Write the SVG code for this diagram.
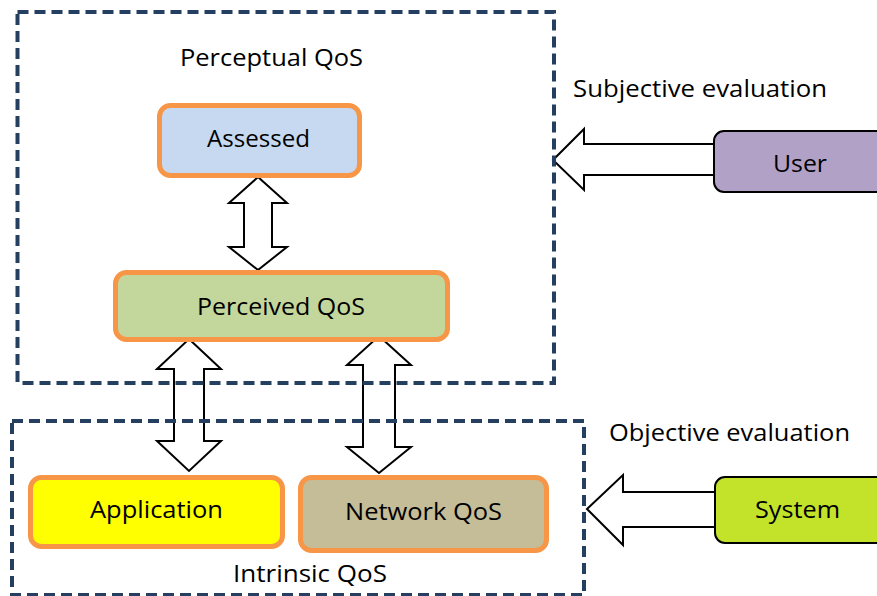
<svg xmlns="http://www.w3.org/2000/svg" width="877" height="596" viewBox="0 0 877 596">
  <style>
    text { font-family: "Open Sans", "Liberation Sans", Arial, sans-serif; font-size: 24px; fill: #000; }
    .group { fill: none; stroke: #243f60; stroke-width: 4; stroke-dasharray: 11 6; }
    .qos { stroke: #f79646; stroke-width: 5; }
    .actor { stroke: #000; stroke-width: 2; }
    .block { fill: #fff; stroke: #000; stroke-width: 2; stroke-linejoin: miter; }
  </style>
  <rect width="877" height="596" fill="#fff"/>

  <!-- block arrows -->
  <g id="connectors">
    <polygon class="block" points="258,177 287,203 272,203 272,247 287,247 258,270 229,247 244,247 244,203 229,203"/>
    <polygon class="block" points="189,339 221,369 204,369 204,441 221,441 189,471 157,441 174,441 174,369 157,369"/>
    <polygon class="block" points="379,336 411,365 395,365 395,447 411,447 379,473 347,447 363,447 363,365 347,365"/>
    <polygon class="block" points="553,160 584,129 584,144 720,144 720,175 584,175 584,190"/>
    <polygon class="block" points="587,509 623,475 623,492 720,492 720,527 623,527 623,545"/>
  </g>

  <!-- dashed groupings -->
  <g id="perceptual-qos">
    <rect class="group" x="17.5" y="12" width="536.5" height="371"/>
    <text x="180" y="66" textLength="183" lengthAdjust="spacingAndGlyphs">Perceptual QoS</text>
  </g>
  <g id="intrinsic-qos">
    <rect class="group" x="12" y="421" width="572" height="174"/>
    <text x="233" y="582" textLength="154" lengthAdjust="spacingAndGlyphs">Intrinsic QoS</text>
  </g>

  <g id="assessed">
    <rect class="qos" x="159.5" y="105.5" width="200" height="70" rx="11" fill="#c6d9f0"/>
    <text x="207" y="147" textLength="103" lengthAdjust="spacingAndGlyphs">Assessed</text>
  </g>
  <g id="perceived">
    <rect class="qos" x="115.5" y="272.5" width="332" height="67" rx="11" fill="#c3d69b"/>
    <text x="197" y="315" textLength="168" lengthAdjust="spacingAndGlyphs">Perceived QoS</text>
  </g>
  <g id="application">
    <rect class="qos" x="30.5" y="477.5" width="252" height="69" rx="11" fill="#ffff00"/>
    <text x="90" y="518" textLength="133" lengthAdjust="spacingAndGlyphs">Application</text>
  </g>
  <g id="network">
    <rect class="qos" x="300.5" y="477.5" width="246" height="73" rx="11" fill="#c4bd97"/>
    <text x="345" y="520" textLength="157" lengthAdjust="spacingAndGlyphs">Network QoS</text>
  </g>

  <g id="user">
    <rect class="actor" x="714" y="131" width="180" height="61" rx="10" fill="#b2a1c7"/>
    <text x="773" y="172" textLength="54" lengthAdjust="spacingAndGlyphs">User</text>
  </g>
  <text x="573" y="97" textLength="254" lengthAdjust="spacingAndGlyphs">Subjective evaluation</text>

  <g id="system">
    <rect class="actor" x="715" y="477" width="180" height="66" rx="10" fill="#c2e32a"/>
    <text x="755" y="518" textLength="85" lengthAdjust="spacingAndGlyphs">System</text>
  </g>
  <text x="609" y="441" textLength="241" lengthAdjust="spacingAndGlyphs">Objective evaluation</text>
</svg>
